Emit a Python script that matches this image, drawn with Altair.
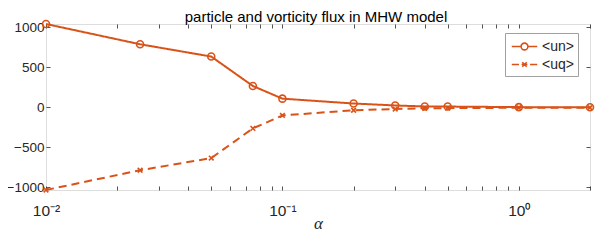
import altair as alt
import pandas as pd

# ---- data ----
alpha = [0.01, 0.025, 0.05, 0.075, 0.1, 0.2, 0.3, 0.4, 0.5, 1.0, 2.0]
un = [1043, 790, 636, 268, 110, 49, 25, 12, 11, 4, 3]
uq = [-1032, -785, -633, -262, -100, -35, -20, -10, -9, -4, -3]
series_names = ["<un>", "<uq>"]
x_ticks = [0.01, 0.02, 0.03, 0.04, 0.05, 0.06, 0.07, 0.08, 0.09,
           0.1, 0.2, 0.3, 0.4, 0.5, 0.6, 0.7, 0.8, 0.9, 1, 2]
y_ticks = [-1000, -500, 0, 500, 1000]
title_text = ["particle and vorticity flux in MHW model"]

rows = []
for a, v in zip(alpha, un):
    rows.append({"alpha": a, "value": v, "series": series_names[0]})
for a, v in zip(alpha, uq):
    rows.append({"alpha": a, "value": v, "series": series_names[1]})
df = pd.DataFrame(rows)

ORANGE = "#D95319"
AX = "#262626"
FONT = "Liberation Sans"
W, H = 544, 166
TL = 4  # inward tick length

xs = alt.Scale(type="log", domain=[0.01, 2], nice=False)
ys = alt.Scale(domain=[-1032, 1043], nice=False, zero=False)

x_label_expr = ("abs(datum.value - 0.01) < 1e-9 ? '10\u207b\u00b2' : "
                "(abs(datum.value - 0.1) < 1e-9 ? '10\u207b\u00b9' : "
                "(abs(datum.value - 1) < 1e-9 ? '10\u2070' : ''))")

x_axis = alt.Axis(orient="bottom", values=x_ticks, labelExpr=x_label_expr,
                  ticks=False, domain=False, grid=True,
                  gridDash=[TL, H - 2 * TL, TL, 400], gridColor=AX,
                  gridWidth=0.8, gridOpacity=1,
                  labelFont=FONT, labelFontSize=15.5, labelColor=AX,
                  labelPadding=13, labelBaseline="top", labelOverlap=False,
                  labelFlush=False,
                  title="\u03b1", titleFont="Liberation Serif",
                  titleFontStyle="italic", titleFontWeight="normal",
                  titleFontSize=17, titleColor=AX, titlePadding=-3)
y_axis = alt.Axis(orient="left", values=y_ticks, format="d", ticks=False,
                  domain=False, grid=True, gridDash=[TL, W - 2 * TL, TL, 1000],
                  gridColor=AX, gridWidth=0.8, gridOpacity=1,
                  labelFont=FONT, labelFontSize=13.5, labelColor=AX,
                  labelPadding=2, labelFlush=False, title=None)

x_enc = alt.X("alpha:Q", scale=xs, axis=x_axis)
y_enc = alt.Y("value:Q", scale=ys, axis=y_axis)

base = alt.Chart(df)

line = base.mark_line(strokeWidth=2, color=ORANGE).encode(
    x=x_enc, y=y_enc,
    strokeDash=alt.StrokeDash("series:N",
                              scale=alt.Scale(domain=series_names, range=[[1, 0], [8, 5]]),
                              legend=None),
)

points = base.mark_point(filled=False, strokeWidth=1.6, color=ORANGE, opacity=1).encode(
    x=x_enc, y=y_enc,
    shape=alt.Shape("series:N",
                    scale=alt.Scale(domain=series_names,
                                    range=["circle", "M-1,-1L1,1M-1,1L1,-1"]),
                    legend=None),
    size=alt.Size("series:N", scale=alt.Scale(domain=series_names, range=[49, 22]),
                  legend=None),
)

path_un = ("M-1.5,0L-0.4,0M0.4,0L1.5,0"
           "M0.4,0A0.4,0.4,0,1,1,-0.4,0A0.4,0.4,0,1,1,0.4,0")
path_uq = ("M-1.5,0L-0.65,0M-0.26,-0.26L0.26,0.26M-0.26,0.26L0.26,-0.26"
           "M-0.34,0L0.34,0M0.65,0L1.5,0")

legend_layer = base.transform_filter("false").mark_point(
    filled=False, strokeWidth=1.6, color=ORANGE, opacity=1
).encode(
    x=x_enc, y=y_enc,
    shape=alt.Shape("series:N",
                    scale=alt.Scale(domain=series_names, range=[path_un, path_uq]),
                    legend=alt.Legend(orient="none", legendX=459, legendY=9,
                                      title=None, symbolSize=289, symbolStrokeWidth=1.6,
                                      symbolStrokeColor=ORANGE, symbolOffset=6,
                                      labelFont=FONT, labelFontSize=14, labelColor=AX,
                                      labelOffset=8, rowPadding=1, padding=4,
                                      strokeColor="#a0a0a0", fillColor="white")),
)

title_layer = alt.Chart(pd.DataFrame({"t": title_text})).mark_text(
    font=FONT, fontSize=15, color="#000000", align="center", baseline="alphabetic"
).encode(
    x=alt.value(W / 2 - 2), y=alt.value(-2), text="t:N"
)

chart = alt.layer(line, points, legend_layer, title_layer).resolve_scale(
    shape="independent"
).properties(
    width=W, height=H,
    autosize=alt.AutoSizeParams(type="none"),
    padding={"left": 38, "top": 16, "right": 5, "bottom": 45},
).configure_view(stroke="#666666", strokeWidth=1).configure(background="white")

chart.save("out.html", embed_options={"renderer": "svg", "actions": False})
